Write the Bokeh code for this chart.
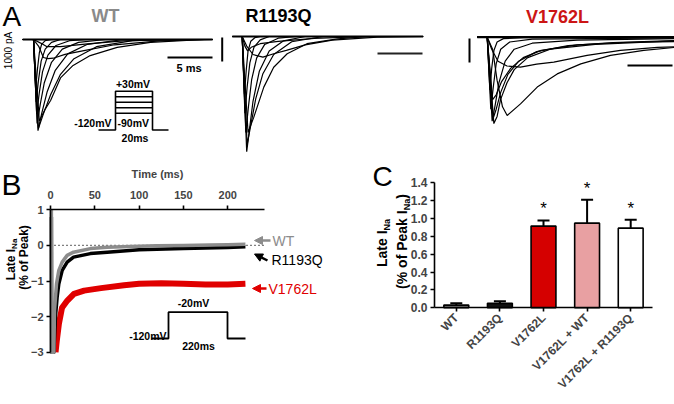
import math
from bokeh.plotting import figure
from bokeh.models import (Range1d, ColumnDataSource, Label, Arrow,
                          NormalHead, Whisker, TeeHead, FixedTicker, PrintfTickFormatter)
from bokeh.layouts import column, row
from bokeh.embed import file_html
from bokeh.resources import INLINE
from bokeh.core.properties import value

# ======================= DATA =======================
# Panel A: Na+ current families (time in ms from step onset, current in nA)
wt_sweep = [-1.2, 19.9]
wt_traces_t = [
    [0, 0.25, 0.45, 0.65, 0.9, 1.3, 2.0],
    [0, 0.3, 0.55, 0.85, 1.3, 2.0, 3.0],
    [0, 0.35, 0.65, 1.0, 1.6, 2.5, 4.0, 6.0],
    [0, 0.4, 0.75, 1.2, 2.0, 3.2, 5.0, 8.0],
    [0, 0.5, 0.9, 1.5, 2.4, 3.8, 6.0, 10.0],
    [0, 0.55, 1.1, 1.9, 3.0, 4.5, 7.0, 11.0, 16.0],
    [0, 0.65, 1.3, 1.9, 3.0, 4.4, 6.3, 9.3, 13.0, 19.0],
    [0, 0.6, 1.1, 1.6, 2.2, 3.5, 5.6, 9.0, 14.0, 19.9],
    [0, 0.8, 1.5, 3.0, 6.0, 10.0, 16.0],
]
wt_traces_i = [
    [0, -2.0, -1.2, -0.55, -0.2, -0.05, 0],
    [0, -2.6, -1.7, -0.9, -0.4, -0.12, 0],
    [0, -3.1, -2.2, -1.35, -0.65, -0.25, -0.05, 0],
    [0, -3.5, -2.7, -1.8, -0.95, -0.4, -0.12, 0],
    [0, -3.8, -3.1, -2.2, -1.3, -0.6, -0.2, 0],
    [0, -3.7, -3.1, -2.3, -1.45, -0.8, -0.3, -0.05, 0],
    [0, -3.4, -2.9, -2.54, -1.6, -1.08, -0.67, -0.33, -0.12, 0],
    [0, -0.3, -0.75, -0.8, -0.78, -0.62, -0.46, -0.22, -0.06, 0],
    [0, -0.15, -0.3, -0.3, -0.18, -0.06, 0],
]

r_sweep = [-1.1, 20.1]
r_traces_t = [
    [0, 0.25, 0.45, 0.65, 0.95, 1.4, 2.0],
    [0, 0.3, 0.55, 0.85, 1.3, 2.0, 3.0],
    [0, 0.4, 0.7, 1.05, 1.6, 2.5, 4.0, 6.0],
    [0, 0.5, 0.8, 1.2, 1.9, 3.0, 4.6, 7.0],
    [0, 0.55, 0.95, 1.5, 2.3, 3.5, 5.5, 9.0],
    [0, 0.65, 1.29, 2.4, 3.5, 5.0, 7.2, 10.6, 14.0],
    [0, 0.5, 1.2, 2.3, 3.5, 4.9, 7.0, 10.0, 15.0, 20.0],
    [0, 0.3, 0.6, 1.0, 2.0, 4.0, 8.0, 14.0],
]
r_traces_i = [
    [0, -2.4, -1.4, -0.6, -0.2, -0.05, 0],
    [0, -3.2, -2.1, -1.1, -0.45, -0.14, 0],
    [0, -4.0, -2.9, -1.8, -0.9, -0.33, -0.07, 0],
    [0, -4.8, -3.9, -2.7, -1.45, -0.6, -0.18, 0],
    [0, -4.5, -3.7, -2.6, -1.55, -0.75, -0.22, 0],
    [0, -4.0, -3.36, -2.11, -1.28, -0.72, -0.3, -0.1, 0],
    [0, -0.4, -0.75, -0.86, -0.72, -0.58, -0.35, -0.15, -0.03, 0],
    [0, -0.4, -0.6, -0.45, -0.3, -0.2, -0.08, 0],
]

v_sweep = [-1.1, 21.0]
v_traces_t = [
    [0, 0.3, 0.5, 0.75, 1.1, 1.8, 4.0, 21.0],
    [0, 0.4, 0.7, 1.0, 1.5, 2.5, 5.0, 21.0],
    [0, 0.55, 0.9, 1.3, 2.0, 3.0, 5.0, 10.0, 21.0],
    [0, 0.74, 1.1, 1.48, 2.2, 3.0, 4.5, 7.0, 12.0, 21.0],
    [0, 0.65, 1.0, 1.5, 2.3, 3.5, 5.5, 9.0, 14.0, 21.0],
    [0, 0.6, 1.0, 1.6, 2.6, 4.0, 6.0, 10.0, 15.0, 21.0],
    [0, 0.5, 1.2, 2.2, 3.7, 5.5, 7.4, 11.1, 14.8, 18.9, 21.0],
    [0, 0.6, 1.1, 1.7, 2.22, 3.7, 5.56, 7.78, 10.4, 13.7, 17.4, 21.0],
]
v_traces_i = [
    [0, -2.2, -1.3, -0.55, -0.2, -0.06, -0.02, 0],
    [0, -3.0, -2.0, -1.1, -0.5, -0.2, -0.08, -0.03],
    [0, -3.5, -2.8, -1.9, -1.0, -0.5, -0.25, -0.12, -0.06],
    [0, -3.6, -3.3, -2.6, -1.9, -1.35, -0.85, -0.5, -0.3, -0.15],
    [0, -3.4, -3.0, -2.3, -1.55, -1.0, -0.6, -0.35, -0.22, -0.14],
    [0, -2.6, -2.4, -1.85, -1.3, -0.85, -0.55, -0.32, -0.22, -0.18],
    [0, -0.5, -1.0, -1.2, -1.25, -1.12, -1.04, -0.76, -0.55, -0.42, -0.4],
    [0, -0.5, -1.8, -2.9, -3.26, -2.78, -2.08, -1.53, -1.11, -0.76, -0.55, -0.42],
]
scale_ms = 5.0
scale_nA = 1.0

# Panel B: late INa (% of peak) vs time (ms)
time_ticks = [0, 50, 100, 150, 200]
late_ticks = [-3, -2, -1, 0, 1]
time_axis_end = 241
wt_late_t = [1.0, 1.3, 3.8, 4.5, 6.8, 9.4, 13.2, 18.8, 26, 45, 64, 90, 120, 150, 180, 200, 220]
wt_late_v = [1.0, -3.0, -3.0, -1.83, -1.08, -0.70, -0.47, -0.28, -0.19, -0.09, -0.05, -0.03, -0.01, 0.0, 0.01, 0.02, 0.03]
r_late_t = [1.0, 1.3, 3.8, 5.6, 7.5, 9.4, 13.2, 18.8, 26, 45, 64, 100, 150, 200, 220]
r_late_v = [0.8, -3.0, -3.0, -2.0, -1.45, -1.08, -0.70, -0.47, -0.33, -0.23, -0.19, -0.12, -0.09, -0.06, -0.04]
v_late_t = [5.7, 7.0, 9.5, 13, 19, 26.5, 38, 57, 83, 100, 125, 150, 175, 200, 220]
v_late_v = [-3.0, -2.7, -2.2, -1.75, -1.55, -1.36, -1.27, -1.2, -1.12, -1.08, -1.06, -1.08, -1.1, -1.1, -1.08]

# Panel C: late INa bar chart
categories = ["WT", "R1193Q", "V1762L", "V1762L + WT", "V1762L + R1193Q"]
means = [0.03, 0.05, 0.915, 0.948, 0.892]
sems = [0.02, 0.022, 0.063, 0.262, 0.093]
bar_colors = ["#777777", "#111111", "#d50000", "#e8a0a2", "#ffffff"]
significant = [False, False, True, True, True]
c_ticks = [0.0, 0.2, 0.4, 0.6, 0.8, 1.0, 1.2, 1.4]

# ======================= LAYOUT =======================
TOTAL_W, TOTAL_H = 674, 404
FONT = "Liberation Sans"
RED = "#cc1515"
GRAY = "#8a8a8a"
ROT = math.pi / 2


def fs(px):
    return f"{px:.1f}px"


def lab(p, x, y, text, size, color="black", bold=False, align="left", angle=0.0):
    p.add_layout(Label(x=x, y=y, text=text, text_font=FONT, text_font_size=fs(size),
                       text_font_style="bold" if bold else "normal", text_color=color,
                       text_align=align, text_baseline="middle", angle=angle))


def blank_fig(w, h, xr, yr, **kw):
    p = figure(width=w, height=h, x_range=xr, y_range=yr, output_backend="svg",
               toolbar_location=None, min_border=0, **kw)
    p.outline_line_color = None
    p.grid.visible = False
    p.background_fill_color = "white"
    p.border_fill_color = "white"
    return p


def style_axis(ax, size):
    ax.axis_line_width = 1.6
    ax.major_tick_line_width = 1.6
    ax.major_tick_out = 4
    ax.major_tick_in = 0
    ax.minor_tick_out = 0
    ax.minor_tick_in = 0
    ax.major_label_text_font = FONT
    ax.major_label_text_font_style = "bold"
    ax.major_label_text_font_size = fs(size)
    ax.major_label_standoff = 3


TOP_H = 160
BOT_H = TOTAL_H - TOP_H
W1, W2 = 219, 226
W3 = TOTAL_W - W1 - W2


def panel_a(w, x0, x1, onset, base, sweep, ts, cs):
    def t(x):
        return (x - onset) / 9.0

    def c(y):
        return (base - y) / 24.0

    p = blank_fig(w, TOP_H, Range1d(t(x0), t(x1)), Range1d(c(160), c(0)),
                  x_axis_location=None, y_axis_location=None)
    xs = [[sweep[0]] + tt + [max(sweep[1], tt[-1])] for tt in ts]
    ys = [[0] + ii + [ii[-1]] for ii in cs]
    p.multi_line(xs, ys, line_color="black", line_width=1.2)
    p.line(sweep, [0, 0], line_color="black", line_width=2.2)
    return p, t, c


# ---- A1: WT
a1, t1, c1 = panel_a(W1, 0, 219, 33, 39, wt_sweep, wt_traces_t, wt_traces_i)
lab(a1, t1(2), c1(15.5), "A", 28)
lab(a1, t1(105), c1(15), "WT", 18, color=GRAY, bold=True, align="center")
a1.line([t1(167), t1(167) + scale_ms], [c1(57), c1(57)], line_color="black", line_width=2)
lab(a1, t1(188.5), c1(67.5), "5 ms", 11, bold=True, align="center")
lab(a1, t1(8), c1(50), "1000 pA", 10, align="center", angle=ROT)
a1.line([t1(98), t1(115), t1(115), t1(152), t1(152), t1(168)],
        [c1(129.5), c1(129.5), c1(90.7), c1(90.7), c1(129.5), c1(129.5)],
        line_color="black", line_width=1.6)
for yy in [96.2, 101.7, 107.2, 112.7]:
    a1.line([t1(115), t1(152)], [c1(yy), c1(yy)], line_color="black", line_width=1.6)
lab(a1, t1(132.5), c1(83), "+30mV", 10.5, bold=True, align="center")
lab(a1, t1(111), c1(122.5), "-120mV", 10.5, bold=True, align="right")
lab(a1, t1(117), c1(122.5), "-90mV", 10.5, bold=True)
lab(a1, t1(134.5), c1(137.5), "20ms", 10.5, bold=True, align="center")

# ---- A2: R1193Q
a2, t2, c2 = panel_a(W2, 219, 445, 241.7, 36, r_sweep, r_traces_t, r_traces_i)
lab(a2, t2(278), c2(15), "R1193Q", 18, bold=True, align="center")
a2.line([t2(377), t2(377) + scale_ms], [c2(53), c2(53)], line_color="#222222", line_width=2)
a2.line([t2(221.7), t2(221.7)], [c2(37), c2(37) - scale_nA], line_color="black", line_width=2)

# ---- A3: V1762L
a3, t3, c3 = panel_a(W3, 445, 674, 486.7, 36.7, v_sweep, v_traces_t, v_traces_i)
lab(a3, t3(557), c3(16.5), "V1762L", 18, color=RED, bold=True, align="center")
a3.line([t3(627), t3(627) + scale_ms], [c3(65), c3(65)], line_color="black", line_width=2)
a3.line([t3(469), t3(469)], [c3(38), c3(38) - scale_nA], line_color="black", line_width=2)

# ======================= PANEL B =======================
W_B = 340
W_C = TOTAL_W - W_B


def tB(x):
    return (x - 50) / 0.886


def vB(y):
    return 1 - (y - 209.3) / 35.6


pB = blank_fig(W_B, BOT_H, Range1d(tB(0), tB(340)), Range1d(vB(404), vB(160)),
               x_axis_location="above")
xa, ya = pB.xaxis[0], pB.yaxis[0]
style_axis(xa, 11)
style_axis(ya, 11)
xa.fixed_location = late_ticks[-1]
ya.fixed_location = time_ticks[0]
xa.ticker = FixedTicker(ticks=time_ticks)
xa.bounds = (time_ticks[0], time_axis_end)
xa.major_label_standoff = 7
xa.axis_label = "Time (ms)"
xa.axis_label_text_font = FONT
xa.axis_label_text_font_style = "bold"
xa.axis_label_text_font_size = fs(11)
xa.axis_label_standoff = 8
ya.ticker = FixedTicker(ticks=late_ticks)
ya.bounds = (late_ticks[0], late_ticks[-1])

pB.line([0, time_axis_end], [0, 0], line_color="black", line_width=1.4, line_dash="1 3")
pB.line(v_late_t, v_late_v, line_color="#e00000", line_width=6, line_join="round")
pB.line(r_late_t, r_late_v, line_color="black", line_width=3.5, line_join="round")
pB.line(wt_late_t, wt_late_v, line_color="#8c8c8c", line_width=3.5, line_join="round")

for (xs0, ys0, xs1, ys1, col) in [(270, 240, 254, 240, "#8c8c8c"),
                                  (267, 260, 254, 253.5, "black"),
                                  (266, 288, 252, 288, "#e00000")]:
    pB.add_layout(Arrow(end=NormalHead(size=8, fill_color=col, line_color=col),
                        x_start=tB(xs0), y_start=vB(ys0), x_end=tB(xs1), y_end=vB(ys1),
                        line_color=col, line_width=2.5))
lab(pB, tB(272), vB(240.5), "WT", 14, color="#8c8c8c")
lab(pB, tB(271), vB(259.5), "R1193Q", 14)
lab(pB, tB(268), vB(288), "V1762L", 14, color="#e00000")

pB.line([tB(151), tB(168), tB(168), tB(227), tB(227), tB(245)],
        [vB(338), vB(338), vB(311.7), vB(311.7), vB(338), vB(338)],
        line_color="black", line_width=1.8)
lab(pB, tB(193), vB(302.5), "-20mV", 10.5, bold=True, align="center")
lab(pB, tB(166), vB(335), "-120mV", 10.5, bold=True, align="right")
lab(pB, tB(198), vB(345), "220ms", 10.5, bold=True, align="center")

lab(pB, tB(1), vB(184), "B", 30)
lab(pB, tB(10), vB(279.7), "Late I", 12, bold=True, angle=ROT)
lab(pB, tB(14), vB(248.4), "Na", 8, bold=True, angle=ROT)
lab(pB, tB(23), vB(257), "(% of Peak)", 12, bold=True, align="center", angle=ROT)

# ======================= PANEL C =======================
def cx(x):
    return (x - 434) / 43.6


def cy(y):
    return (307.3 - y) / 89.3


pC = blank_fig(W_C, BOT_H, Range1d(cx(340), cx(674)), Range1d(cy(404), cy(160)))
xc, yc = pC.xaxis[0], pC.yaxis[0]
style_axis(xc, 12)
style_axis(yc, 12)
xc.fixed_location = c_ticks[0]
yc.fixed_location = 0
cat_pos = [i + 0.5 for i in range(len(categories))]
xc.ticker = FixedTicker(ticks=cat_pos)
xc.major_label_overrides = {p: c for p, c in zip(cat_pos, categories)}
xc.bounds = (0, len(categories))
xc.major_label_orientation = math.pi / 4
xc.major_label_standoff = 4
yc.ticker = FixedTicker(ticks=c_ticks)
yc.formatter = PrintfTickFormatter(format="%.1f")
yc.bounds = (c_ticks[0], c_ticks[-1])

upper = [m + s for m, s in zip(means, sems)]
srcC = ColumnDataSource(dict(x=cat_pos, mean=means, upper=upper, color=bar_colors))
pC.vbar(x="x", top="mean", width=0.57, source=srcC, fill_color="color",
        line_color="black", line_width=1.6)
pC.add_layout(Whisker(base="x", lower="mean", upper="upper", source=srcC,
                      upper_head=TeeHead(size=12, line_width=2, line_color="black"),
                      lower_head=None, line_width=2, line_color="black"))
sig_x = [x for x, s in zip(cat_pos, significant) if s]
sig_y = [u + 0.13 for u, s in zip(upper, significant) if s]
pC.text(x=sig_x, y=sig_y, text=["*"] * len(sig_x), text_font=value(FONT),
        text_font_size=fs(17), text_align="center", text_baseline="middle")

lab(pC, cx(372), cy(176), "C", 28)
lab(pC, cx(381), cy(266.5), "Late I", 14, bold=True, angle=ROT)
lab(pC, cx(386), cy(229.9), "Na", 9, bold=True, angle=ROT)
lab(pC, cx(401), cy(288.4), "(% of Peak I", 14, bold=True, angle=ROT)
lab(pC, cx(406), cy(209.8), "Na", 9, bold=True, angle=ROT)
lab(pC, cx(401), cy(198.3), ")", 14, bold=True, angle=ROT)

layout = column(row(a1, a2, a3), row(pB, pC))
open("out.html", "w").write(file_html(layout, INLINE))
